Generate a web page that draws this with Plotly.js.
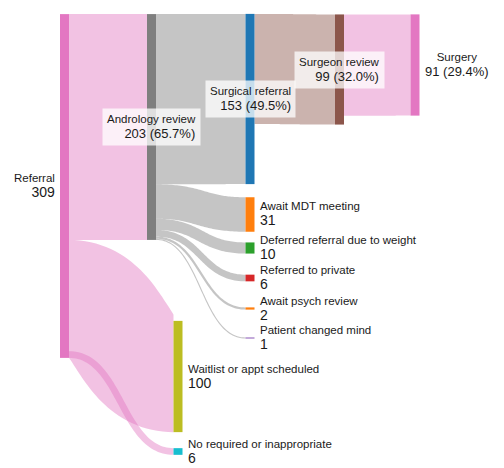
<!DOCTYPE html>
<html><head><meta charset="utf-8">
<script src="https://cdn.plot.ly/plotly-3.0.1.min.js"></script>
<style>html,body{margin:0;padding:0;background:#fff}#chart{width:504px;height:468px}</style>
</head><body><div id="chart"></div>
<script>
// ---- data ----
const nodeNames = ["Referral","Andrology review","Waitlist or appt scheduled","No required or inappropriate",
  "Surgical referral","Await MDT meeting","Deferred referral due to weight","Referred to private",
  "Await psych review","Patient changed mind","Surgeon review","Surgery"];
const linkSource = [0,0,0,1,1,1,1,1,1,4,10];
const linkTarget = [1,2,3,4,5,6,7,8,9,10,11];
const linkValue  = [203,100,6,153,31,10,6,2,1,99,91];
const showPercent = [false,true,false,false,true,false,false,false,false,false,true,true];

// ---- styles / layout ----
const W = 504, H = 468;
const nodeColors = ["#e377c2","#7f7f7f","#bcbd22","#17becf","#1f77b4","#ff7f0e","#2ca02c","#d62728","#ff7f0e","#9467bd","#8c564b","#e377c2"];
const linkColors = ["rgba(227,119,194,0.45)","rgba(227,119,194,0.45)","rgba(227,119,194,0.45)",
  "rgba(127,127,127,0.45)","rgba(127,127,127,0.45)","rgba(127,127,127,0.45)","rgba(127,127,127,0.45)",
  "rgba(127,127,127,0.45)","rgba(127,127,127,0.45)","rgba(140,86,75,0.45)","rgba(227,119,194,0.45)"];
const nodePxX = [64.5,151.5,178,178,250,250,250,250,250,250,339.5,415];
const nodePxY = [186,127,376.5,451.5,99,214.5,248,278,308.5,338,69.5,65];
const labelStyle = ["left","box","right","right","box","right","right","right","right","right","box","rightc"];
const thick = 9;

// node values
const inV = nodeNames.map(()=>0), outV = nodeNames.map(()=>0);
linkValue.forEach((v,i)=>{ outV[linkSource[i]] += v; inV[linkTarget[i]] += v; });
const nodeVal = nodeNames.map((_,i)=>Math.max(inV[i], outV[i]));
const total = nodeVal[0];

const trace = {
  type: "sankey",
  arrangement: "fixed",
  domain: {x:[0,1], y:[0,1]},
  hoverinfo: "none",
  node: {
    label: nodeNames.map(()=>""),
    color: nodeColors,
    x: nodePxX.map(v=>v/W),
    y: nodePxY.map(v=>v/H),
    thickness: thick,
    pad: 27.6,
    line: {width: 0},
    hoverinfo: "none"
  },
  link: {
    source: linkSource, target: linkTarget, value: linkValue,
    color: linkColors, hoverinfo: "none"
  }
};

const font = {family: "Liberation Sans, Arial, sans-serif", size: 11.5, color: "#1a1a1a"};
const annotations = nodeNames.map((name,i)=>{
  const num = nodeVal[i] + (showPercent[i] ? " (" + (nodeVal[i]/total*100).toFixed(1) + "%)" : "");
  const numSize = showPercent[i] ? 13 : 14;
  const text = name + '<br><span style="font-size:' + numSize + 'px">' + num + '</span>';
  const a = {xref:"paper", yref:"paper", x: nodePxX[i]/W, y: 1 - nodePxY[i]/H, text: text,
    showarrow:false, font: font, yanchor:"middle"};
  const st = labelStyle[i];
  if (st === "left") { a.xanchor = "right"; a.align = "right"; a.xshift = -(thick/2 + 3); }
  else if (st === "box") { a.xanchor = "center"; a.align = "right"; a.bgcolor = "rgba(255,255,255,0.75)"; a.borderpad = 4; }
  else if (st === "rightc") { a.xanchor = "left"; a.align = "center"; a.xshift = thick/2 + 3; }
  else { a.xanchor = "left"; a.align = "left"; a.xshift = thick/2 + 3; }
  return a;
});

// Re-shape each link ribbon (computed by Plotly) as a constant-width band along its centre curve
function bandPath(n) {
  const [x0,y0a,x2,,x3,y1a,x1,,,y1b,,,,y0b] = n;
  const hw = (y0b - y0a) / 2, ym0 = (y0a + y0b) / 2, ym1 = (y1a + y1b) / 2;
  const P = [[x0,ym0],[x2,ym0],[x3,ym1],[x1,ym1]];
  const N = 60, top = [], bot = [];
  for (let k = 0; k <= N; k++) {
    const t = k / N, u = 1 - t;
    const cx = u*u*u*P[0][0] + 3*u*u*t*P[1][0] + 3*u*t*t*P[2][0] + t*t*t*P[3][0];
    const cy = u*u*u*P[0][1] + 3*u*u*t*P[1][1] + 3*u*t*t*P[2][1] + t*t*t*P[3][1];
    let dx = 3*(u*u*(P[1][0]-P[0][0]) + 2*u*t*(P[2][0]-P[1][0]) + t*t*(P[3][0]-P[2][0]));
    let dy = 3*(u*u*(P[1][1]-P[0][1]) + 2*u*t*(P[2][1]-P[1][1]) + t*t*(P[3][1]-P[2][1]));
    const L = Math.hypot(dx, dy) || 1; dx /= L; dy /= L;
    const nx = -dy, ny = dx;
    const clamp = v => Math.min(Math.max(v, x0), x1);
    top.push([clamp(cx - hw*nx), cy - hw*ny]);
    bot.push([clamp(cx + hw*nx), cy + hw*ny]);
  }
  const pts = top.concat(bot.reverse());
  return "M" + pts.map(p => p[0].toFixed(2) + "," + p[1].toFixed(2)).join("L") + "Z";
}
function reshapeLinks() {
  document.querySelectorAll("#chart .sankey-link").forEach(el => {
    const d = el.getAttribute("d") || "";
    if (el.__made && d === el.__made) return;
    const n = (d.match(/-?\d*\.?\d+(?:e[-+]?\d+)?/gi) || []).map(Number);
    if (n.length < 16) return;
    const nd = bandPath(n);
    el.setAttribute("d", nd);
    el.__made = nd;
  });
}

Plotly.newPlot("chart", [trace], {
  width: W, height: H,
  margin: {l:0, r:0, t:0, b:0},
  paper_bgcolor: "#fff",
  font: font,
  annotations: annotations,
  showlegend: false
}, {displayModeBar: false, staticPlot: true}).then(() => {
  reshapeLinks();
  [200, 450, 700, 1000, 1500].forEach(ms => setTimeout(reshapeLinks, ms));
});
</script>
</body></html>
